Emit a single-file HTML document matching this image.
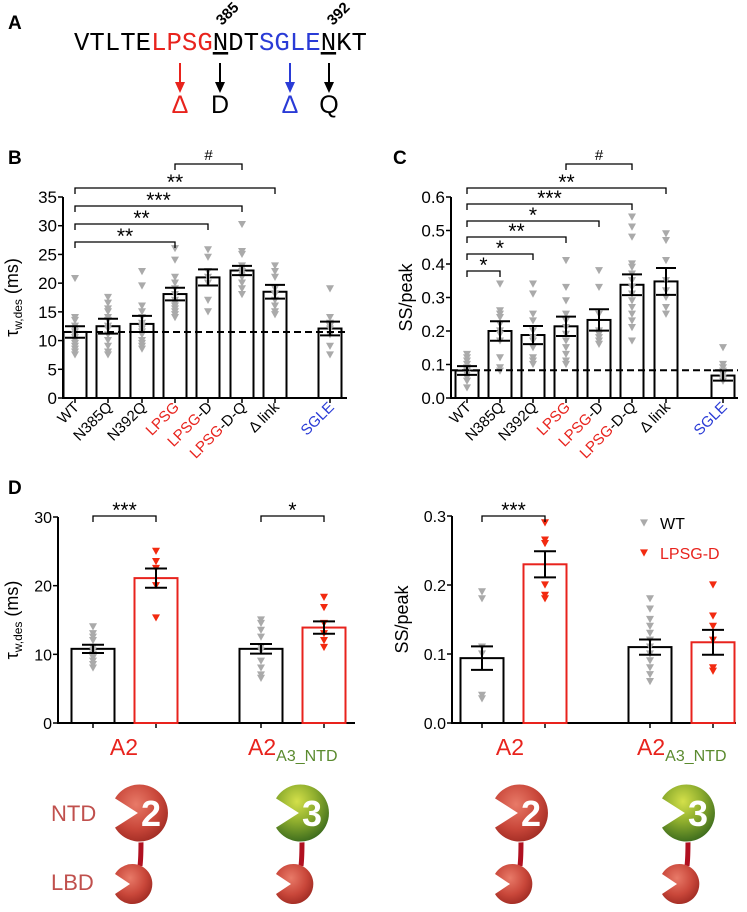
<!DOCTYPE html>
<html><head><meta charset="utf-8"><style>
html,body{margin:0;padding:0;background:#fff;}
svg{display:block;font-family:"Liberation Sans",sans-serif;}
</style></head><body>
<svg id="fig" width="747" height="912" viewBox="0 0 747 912">
<defs>
<radialGradient id="gRed" cx="0.4" cy="0.35" r="0.7"><stop offset="0" stop-color="#e87a68"/><stop offset="0.6" stop-color="#c9473a"/><stop offset="1" stop-color="#9e2a22"/></radialGradient>
<radialGradient id="gGreen" cx="0.4" cy="0.3" r="0.7"><stop offset="0" stop-color="#d4e04a"/><stop offset="0.5" stop-color="#8fae2e"/><stop offset="1" stop-color="#3f6e1e"/></radialGradient>
</defs>
<g>
<text x="8" y="29" font-size="19" font-weight="bold">A</text>
<text x="74" y="50" font-family="'Liberation Mono',monospace" font-size="25.7">VTLTE<tspan fill="#e8231d">LPSG</tspan><tspan text-decoration="underline">N</tspan>DT<tspan fill="#2a3bd6">SGLE</tspan><tspan text-decoration="underline">N</tspan>KT</text>
<text x="222" y="26" font-size="15" font-weight="bold" transform="rotate(-45 222 26)">385</text>
<text x="333" y="26" font-size="15" font-weight="bold" transform="rotate(-45 333 26)">392</text>
<g>
<line x1="180" y1="63" x2="180" y2="84" stroke="#e8231d" stroke-width="2"/><polygon points="175,82 185,82 180,93" fill="#e8231d"/>
<line x1="220" y1="63" x2="220" y2="84" stroke="#000" stroke-width="2"/><polygon points="215,82 225,82 220,93" fill="#000"/>
<line x1="290" y1="63" x2="290" y2="84" stroke="#2a3bd6" stroke-width="2"/><polygon points="285,82 295,82 290,93" fill="#2a3bd6"/>
<line x1="329" y1="63" x2="329" y2="84" stroke="#000" stroke-width="2"/><polygon points="324,82 334,82 329,93" fill="#000"/>
</g>
<text x="180" y="113" font-size="25" fill="#e8231d" text-anchor="middle">Δ</text>
<text x="220" y="113" font-size="25" text-anchor="middle">D</text>
<text x="290" y="113" font-size="25" fill="#2a3bd6" text-anchor="middle">Δ</text>
<text x="329" y="113" font-size="25" text-anchor="middle">Q</text>
</g>
<text x="8" y="164" font-size="19" font-weight="bold">B</text>
<text x="393" y="164" font-size="19" font-weight="bold">C</text>
<text x="8" y="494" font-size="19" font-weight="bold">D</text>
<g id="plots"></g>
<g>
<text x="51" y="821" font-size="22" fill="#c0504d">NTD</text>
<text x="51" y="890" font-size="22" fill="#c0504d">LBD</text>
<g id="icons"></g>
</g>
</svg>
<script>
const catsBC = ["WT","N385Q","N392Q","LPSG","LPSG-D","LPSG-D-Q","Δ link","SGLE"];
const tauMeans = [11.5,12.5,12.9,18.1,21.0,22.2,18.5,12.1];
const tauErr = [1.0,1.3,1.4,1.1,1.4,0.8,1.2,1.2];
const tauPts = [
 [20.8,14,13.5,12.5,12,11.5,11,10.5,10,9.5,9,8.5,8,7.5],
 [17.5,16.5,15.5,15,14,13.5,12.5,12,11,10,9,8,7.5],
 [22,19.5,16,15,14,13,12.5,12,11.5,11,10,9.5,9,8.5],
 [26,24,21,20,19,18,17,16.5,16,15.5,15,14.5,14],
 [25.8,24.5,22,21,20,17,15],
 [30.2,25.5,25,23,22.5,22,21.5,21,20,19,18],
 [23,22,21,19,18,17,16,15,14.5],
 [19,14,13,12.5,12,11,9,7.5]];
const tauTicks = [0,5,10,15,20,25,30,35];
const ssMeans = [0.082,0.2,0.188,0.214,0.233,0.338,0.348,0.067];
const ssErr = [0.013,0.029,0.027,0.029,0.032,0.031,0.04,0.015];
const ssPts = [
 [0.13,0.12,0.11,0.1,0.09,0.085,0.08,0.07,0.06,0.05,0.03],
 [0.34,0.26,0.25,0.24,0.22,0.2,0.19,0.17,0.12,0.09,0.08],
 [0.34,0.31,0.25,0.23,0.2,0.18,0.17,0.15,0.12,0.11,0.1],
 [0.41,0.33,0.29,0.25,0.23,0.21,0.19,0.17,0.15,0.13,0.11,0.1],
 [0.38,0.33,0.25,0.2,0.19,0.18,0.17,0.16],
 [0.54,0.51,0.48,0.4,0.39,0.37,0.35,0.33,0.31,0.29,0.27,0.25,0.23,0.21,0.17],
 [0.49,0.47,0.41,0.35,0.32,0.3,0.27,0.25],
 [0.15,0.1,0.09,0.08,0.07,0.06,0.05]];
const ssTicks = ["0.0","0.1","0.2","0.3","0.4","0.5","0.6"];
const dTauMeans = [10.8,21.1,10.8,13.9];
const dTauErr = [0.6,1.4,0.7,0.9];
const dTauPts = [[14,13,12.5,12,11,10.5,10,9.5,9,8.5,8],[25,23.5,22.5,20,15.3],[15,14.5,13.5,12.5,11,10.5,9,8,7,6.5],[18.3,16.8,14.5,13,12,11]];
const dTauTicks = [0,10,20,30];
const dSsMeans = [0.094,0.23,0.11,0.117];
const dSsErr = [0.017,0.019,0.011,0.018];
const dSsPts = [[0.19,0.18,0.11,0.1,0.04,0.035],[0.29,0.265,0.26,0.2,0.185,0.18],[0.18,0.165,0.15,0.14,0.13,0.12,0.11,0.1,0.09,0.08,0.07,0.06],[0.2,0.155,0.14,0.12,0.08,0.075]];
const dSsTicks = ["0.0","0.1","0.2","0.3"];
const NS="http://www.w3.org/2000/svg";
const root=document.getElementById('plots');
function mk(tag,attrs,parent){const e=document.createElementNS(NS,tag);for(const k in attrs)e.setAttribute(k,attrs[k]);(parent||root).appendChild(e);return e;}
function tri(g,x,y,col,s){const p=mk('polygon',{points:`${x-s},${y-s*0.9} ${x+s},${y-s*0.9} ${x},${y+s*0.9}`,fill:col},g);

}
function panel(o){
 const g=mk('g',{});
 
 
 const Y=v=>o.y0-(v-o.vmin)/(o.vmax-o.vmin)*(o.y0-o.y1);
 const ax=mk('path',{d:`M${o.ax},${o.y1} V${o.y0} H${o.axEnd}`,stroke:'#000','stroke-width':2,fill:'none'},g);
 
 
 o.ticks.forEach(t=>{const v=parseFloat(t);const y=Y(v);
  mk('line',{x1:o.ax-5,x2:o.ax,y1:y,y2:y,stroke:'#000','stroke-width':1.5},g);
  const tx=mk('text',{x:o.ax-6,y:y+6,'font-size':o.tfs,'text-anchor':'end'},g);tx.textContent=t;
  
  });
 const yl=mk('text',{x:o.ylx,y:(o.y0+o.y1)/2,'font-size':18,'text-anchor':'middle',transform:`rotate(-90 ${o.ylx} ${(o.y0+o.y1)/2})`},g);
 yl.innerHTML=o.ylabel;
 
 
 o.means.forEach((m,i)=>{const x=o.xs[i];const col=o.colors?o.colors[i]:'#000';
  mk('line',{x1:x,x2:x,y1:o.y0,y2:o.y0+5,stroke:'#000','stroke-width':1.5},g);
  const b=mk('rect',{x:x-o.bw/2,y:Y(m),width:o.bw,height:o.y0-Y(m),fill:'#fff',stroke:col,'stroke-width':2},g);
  
  
  const pc=o.ptColors?o.ptColors[i]:'#aaa';
  o.pts[i].forEach(v=>tri(g,x,Y(v),pc,o.ms));
  const e=o.err[i];const ew=o.ew;
  const eb=mk('path',{d:`M${x},${Y(m+e)} V${Y(m-e)} M${x-ew},${Y(m+e)} H${x+ew} M${x-ew},${Y(m-e)} H${x+ew}`,stroke:'#000','stroke-width':2,fill:'none'},g);
  
  });
 if(o.dash!=null){const d=mk('line',{x1:o.ax,x2:o.axEnd,y1:Y(o.dash),y2:Y(o.dash),stroke:'#000','stroke-width':2,'stroke-dasharray':'7,4'},g);
  
  }
 (o.brackets||[]).forEach(br=>{const x1=o.xs[br[0]],x2=o.xs[br[1]],y=br[2];
  const p=mk('path',{d:`M${x1},${y+6} V${y} H${x2} V${y+6}`,stroke:'#000','stroke-width':1.3,fill:'none'},g);
  
  
  const t=mk('text',{x:(x1+x2)/2,y:br[3]=='#'?y-4:y+1,'font-size':br[3]=='#'?15:21,'text-anchor':'middle'},g);t.textContent=br[3];
  
  });
 return {g,Y};
}
const xsB=[75,108,142,175,208,242,275,330], xsC=[467,500,533,566,599,632,666,723];
const bBr=[[0,3,242,'**'],[0,4,224,'**'],[0,5,206,'***'],[0,6,188,'**'],[3,5,164,'#']];
const cBr=[[0,1,271,'*'],[0,2,254,'*'],[0,3,237,'**'],[0,4,221,'*'],[0,5,204,'***'],[0,6,188,'**'],[3,5,164,'#']];
const pB=panel({name:'panel-b-tau-chart',ax:63,axEnd:347,y0:398,y1:197,vmin:0,vmax:35,ticks:tauTicks.map(String),tfs:17,ylx:18,ylabel:'τ<tspan font-size="12" dy="4">w,des</tspan><tspan dy="-4"> (ms)</tspan>',means:tauMeans,err:tauErr,pts:tauPts,xs:xsB,bw:23,ew:10,ms:4,dash:11.5,brackets:bBr});
const pC=panel({name:'panel-c-ss-chart',ax:451,axEnd:738,y0:398,y1:197,vmin:0,vmax:0.6,ticks:ssTicks,tfs:17,ylx:412,ylabel:'SS/peak',means:ssMeans,err:ssErr,pts:ssPts,xs:xsC,bw:23,ew:10,ms:4,dash:0.083,brackets:cBr});
function xlab(g,xs){catsBC.forEach((c,i)=>{const x=xs[i]+5,y=408;
 const t=mk('text',{x:x,y:y,'font-size':15,'text-anchor':'end',transform:`rotate(-45 ${x} ${y})`},g);
 if(c.startsWith('LPSG')){t.innerHTML='<tspan fill="#e8231d">LPSG</tspan>'+c.slice(4);} else if(c=='SGLE'){t.setAttribute('fill','#2a3bd6');t.textContent=c;} else t.textContent=c;
 
 });}
xlab(pB.g,xsB);xlab(pC.g,xsC);
const dCols=['#000','#e8231d','#000','#e8231d'], dPc=['#aaa','#f22a10','#aaa','#f22a10'];
const pD1=panel({name:'panel-d-tau-chart',ax:58,axEnd:355,y0:723,y1:517,vmin:0,vmax:30,ticks:dTauTicks.map(String),tfs:16,ylx:18,ylabel:'τ<tspan font-size="12" dy="4">w,des</tspan><tspan dy="-4"> (ms)</tspan>',means:dTauMeans,err:dTauErr,pts:dTauPts,xs:[93,156,261,324],bw:43,ew:11,ms:4,colors:dCols,ptColors:dPc,brackets:[[0,1,516,'***'],[2,3,516,'*']]});
const pD2=panel({name:'panel-d-ss-chart',ax:452,axEnd:736,y0:723,y1:516,vmin:0,vmax:0.3,ticks:dSsTicks,tfs:16,ylx:408,ylabel:'SS/peak',means:dSsMeans,err:dSsErr,pts:dSsPts,xs:[482,545,650,713],bw:43,ew:11,ms:4,colors:dCols,ptColors:dPc,brackets:[[0,1,516,'***']]});
[[124,'A2',false],[248,'A2',true],[510,'A2',false],[637,'A2',true]].forEach(c=>{
 const t=mk('text',{x:c[0],y:755,'font-size':23,fill:'#e8231d','text-anchor':c[2]?'start':'middle'});
 t.innerHTML=c[2]?'A2<tspan font-size="16" fill="#5a8a2e" dy="6">A3_NTD</tspan>':'A2';
 
 });
const lg=mk('g',{});


tri(lg,644,523,'#aaa',4);tri(lg,644,553,'#f22a10',4);
let lt=mk('text',{x:660,y:529,'font-size':16},lg);lt.textContent='WT';


lt=mk('text',{x:660,y:559,'font-size':16,fill:'#e8231d'},lg);lt.textContent='LPSG-D';


const icons=document.getElementById('icons');
[[139,'2','gRed'],[300,'3','gGreen'],[519,'2','gRed'],[686,'3','gGreen']].forEach(c=>{
 const g=mk('g',{},icons);
 
 
 const cx=c[0],cy=813,r=29, lx=cx-7, ly=884, lr=20;
 mk('path',{d:`M${cx+2},${cy+r-2} Q${cx+2},${cy+45} ${lx+8},${ly-lr+2}`,stroke:'#b01020','stroke-width':5,fill:'none'},g);
 mk('path',{d:`M${cx-r*0.85},${cy-r*0.5} A${r},${r} 0 1 1 ${cx-r*0.85},${cy+r*0.5} L${cx-2},${cy} Z`,fill:`url(#${c[2]})`,stroke:'#fff','stroke-width':1},g);
 const t=mk('text',{x:cx+12,y:cy+13,'font-size':36,'font-weight':'bold',fill:'#fff','text-anchor':'middle'},g);t.textContent=c[1];
 mk('path',{d:`M${lx-lr*0.85},${ly-lr*0.5} A${lr},${lr} 0 1 1 ${lx-lr*0.85},${ly+lr*0.5} L${lx-2},${ly} Z`,fill:'url(#gRed)'},g);
});
</script>
</body></html>
